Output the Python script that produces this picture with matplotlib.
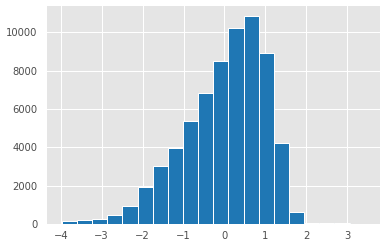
import matplotlib
matplotlib.use("Agg")
import matplotlib.pyplot as plt

# bin edges and counts
bin_edges = [-3.972, -3.602, -3.232, -2.862, -2.492, -2.122, -1.752, -1.382,
             -1.012, -0.642, -0.272, 0.098, 0.468, 0.838, 1.208, 1.578,
             1.948, 2.318, 2.688, 3.058, 3.428]
counts = [140, 190, 280, 490, 960, 1905, 3005, 3950, 5370, 6840,
          8510, 10245, 10830, 8935, 4215, 650, 70, 60, 40, 10]

fig = plt.figure(figsize=(387 / 72, 248 / 72), dpi=72)
ax = fig.add_axes([0.1207, 0.0968, 0.861, 0.879])
ax.set_facecolor("#E5E5E5")
ax.set_axisbelow(True)
ax.grid(True, color="white", linewidth=1.0)
for s in ax.spines.values():
    s.set_visible(False)

ax.hist(bin_edges[:-1], bins=bin_edges, weights=counts,
        color="#1f77b4", edgecolor="white", linewidth=1.0)

ax.set_yticks([0, 2000, 4000, 6000, 8000, 10000])
ax.set_xticks([-4, -3, -2, -1, 0, 1, 2, 3])
ax.tick_params(length=0, labelsize=10, labelcolor="#4d4d4d")
ax.tick_params(axis="y", pad=9)
ax.tick_params(axis="x", pad=7)

fig.savefig("out.png", dpi=72)
